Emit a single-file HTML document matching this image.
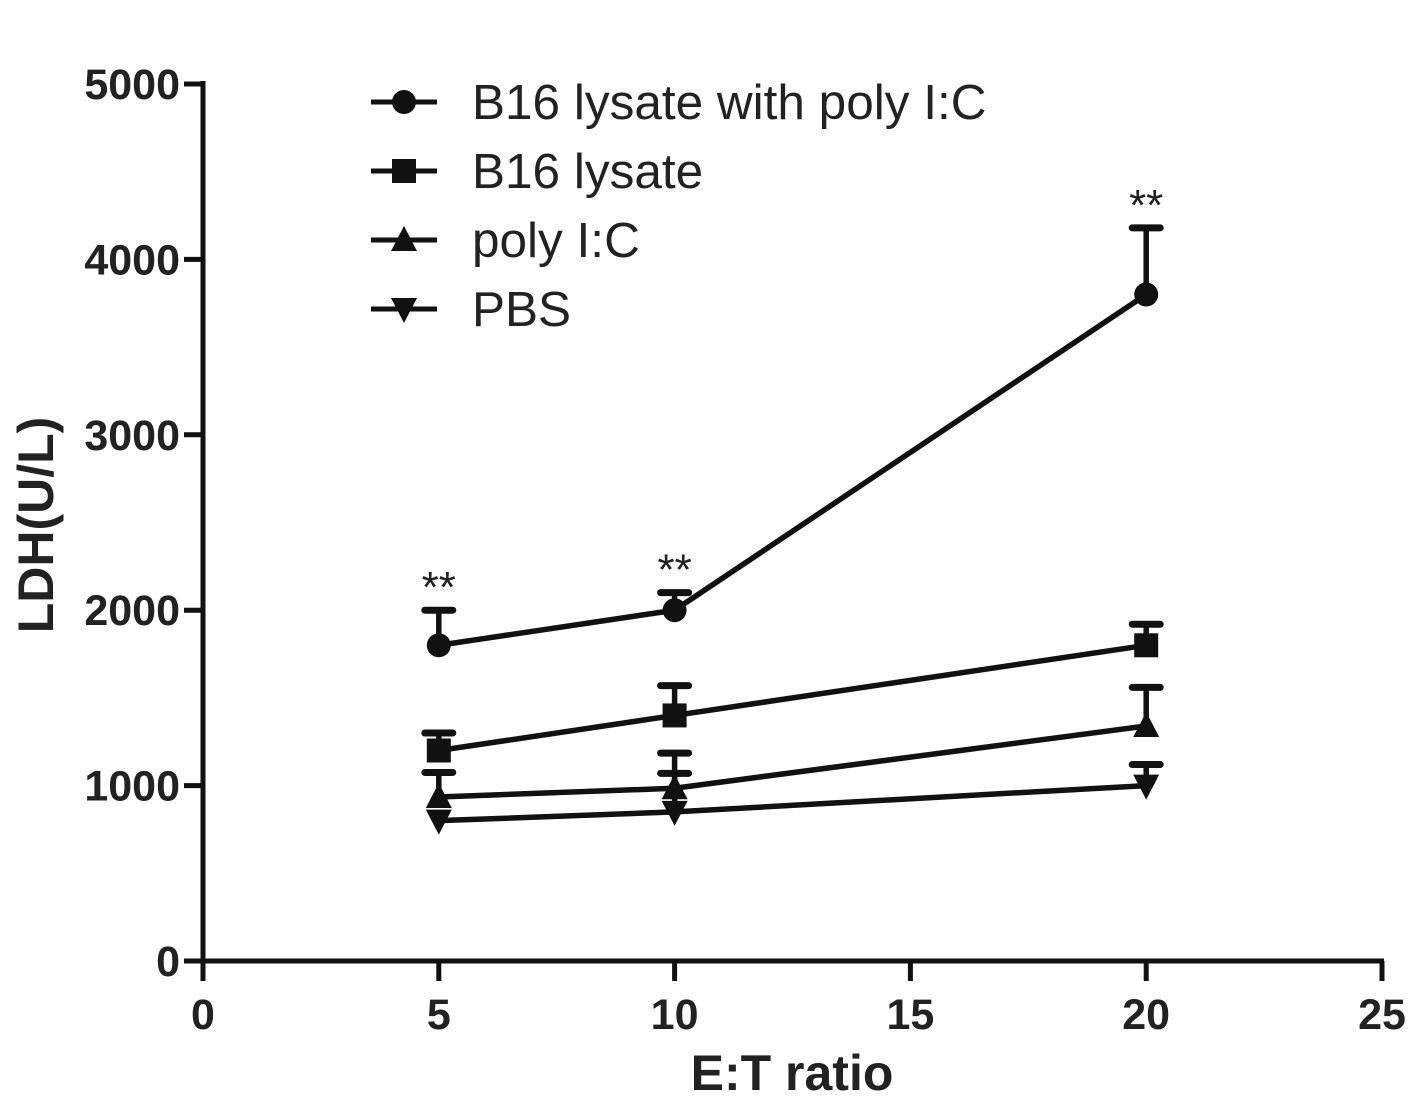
<!DOCTYPE html>
<html><head><meta charset="utf-8"><style>
body{margin:0;background:#fff}
svg{display:block;font-family:"Liberation Sans",Arial,sans-serif}
</style></head><body>
<svg id="chart" width="1421" height="1103" viewBox="0 0 1421 1103">
<g id="axes"></g><g id="series"></g><g id="legend"></g>
</svg>
<script>
const xs=[5,10,20];
const seriesNames=["B16 lysate with poly I:C","B16 lysate","poly I:C","PBS"];
const markers=["circle","square","up","down"];
const valsPoly=[1800,2000,3800];
const errPoly=[200,100,380];
const valsLysate=[1200,1400,1800];
const errLysate=[100,170,120];
const valsPolyIC=[935,985,1340];
const errPolyIC=[140,200,220];
const valsPBS=[800,850,1000];
const errPBS=[0,220,120];
const xTicks=[0,5,10,15,20,25];
const yTicks=[0,1000,2000,3000,4000,5000];
const sigMarks=["**","**","**"];
const NS="http://www.w3.org/2000/svg";
const X=v=>203+v*(1382-203)/25;
const Y=v=>961-v*(961-84)/5000;
function mk(tag,attrs,parent,text){const e=document.createElementNS(NS,tag);for(const k in attrs)e.setAttribute(k,attrs[k]);if(text!==undefined)e.textContent=text;parent.appendChild(e);return e;}
const axes=document.getElementById('axes'),ser=document.getElementById('series'),leg=document.getElementById('legend');
let a=mk('line',{x1:203,y1:81,x2:203,y2:963,stroke:'#111','stroke-width':5},axes);


a=mk('line',{x1:201,y1:961,x2:1384,y2:961,stroke:'#111','stroke-width':5},axes);


yTicks.forEach(t=>{
 mk('line',{x1:184,y1:Y(t),x2:203,y2:Y(t),stroke:'#111','stroke-width':5},axes);
 const l=mk('text',{x:180,y:Y(t)+15,'text-anchor':'end','font-size':43,'font-weight':'bold',fill:'#222'},axes,t);
 
 
});
xTicks.forEach(t=>{
 mk('line',{x1:X(t),y1:961,x2:X(t),y2:981,stroke:'#111','stroke-width':5},axes);
 const l=mk('text',{x:X(t),y:1029,'text-anchor':'middle','font-size':43,'font-weight':'bold',fill:'#222'},axes,t);
 
 
});
let t=mk('text',{x:792,y:1090,'text-anchor':'middle','font-size':50,'font-weight':'bold',fill:'#222'},axes,'E:T ratio');


t=mk('text',{x:0,y:0,transform:'translate(53,525) rotate(-90)','text-anchor':'middle','font-size':50,'font-weight':'bold',fill:'#222'},axes,'LDH(U/L)');


function marker(kind,cx,cy,p){
 const s=12;
 if(kind==='circle')return mk('circle',{cx,cy,r:s,fill:'#111'},p);
 if(kind==='square')return mk('rect',{x:cx-s,y:cy-s,width:2*s,height:2*s,fill:'#111'},p);
 if(kind==='up')return mk('polygon',{points:`${cx},${cy-14} ${cx-13},${cy+11} ${cx+13},${cy+11}`,fill:'#111'},p);
 return mk('polygon',{points:`${cx},${cy+14} ${cx-13},${cy-11} ${cx+13},${cy-11}`,fill:'#111'},p);
}
const allVals=[valsPoly,valsLysate,valsPolyIC,valsPBS];
const allErr=[errPoly,errLysate,errPolyIC,errPBS];
allVals.forEach((vals,si)=>{
 const g=mk('g',{},ser);
 
 
 mk('polyline',{points:xs.map((x,i)=>X(x)+','+Y(vals[i])).join(' '),fill:'none',stroke:'#111','stroke-width':5.5},g);
 xs.forEach((x,i)=>{
  const e=allErr[si][i];
  if(e>0){
   mk('line',{x1:X(x),y1:Y(vals[i]),x2:X(x),y2:Y(vals[i]+e),stroke:'#111','stroke-width':5.5},g);
   mk('line',{x1:X(x)-14,y1:Y(vals[i]+e),x2:X(x)+14,y2:Y(vals[i]+e),stroke:'#111','stroke-width':7,'stroke-linecap':'round'},g);
  }
  const m=marker(markers[si],X(x),Y(vals[i]),g);
  
  
 });
});
xs.forEach((x,i)=>{
 const s=mk('text',{x:X(x),y:Y(valsPoly[i]+errPoly[i])-8,'text-anchor':'middle','font-size':44,fill:'#222'},ser,sigMarks[i]);
 
 
});
seriesNames.forEach((n,i)=>{
 const y=102+i*69;
 const g=mk('g',{},leg);
 
 
 mk('line',{x1:371,y1:y,x2:437,y2:y,stroke:'#111','stroke-width':5},g);
 marker(markers[i],404,y,g);
 mk('text',{x:472,y:y+17,'font-size':49.5,fill:'#222'},g,n);
});
</script>
</body></html>
